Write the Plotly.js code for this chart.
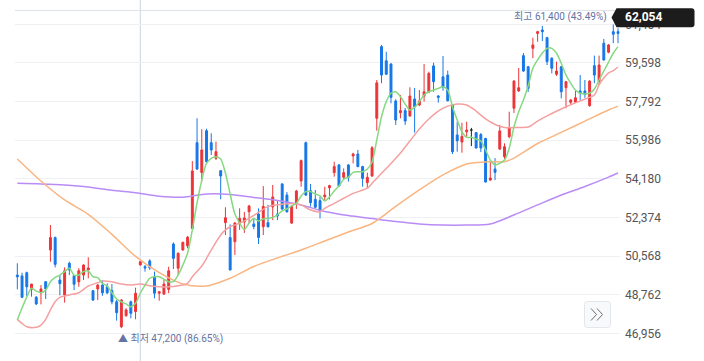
<!DOCTYPE html>
<html>
<head>
<meta charset="utf-8">
<script src="https://cdn.plot.ly/plotly-3.0.1.min.js"></script>
<style>
  html, body { margin: 0; padding: 0; background: #fff; }
  #chart { width: 704px; height: 361px; }
</style>
</head>
<body>
<div id="chart"></div>
<script>
// ---------------- data ----------------
const openPrices = [
  49680,49640,49790,49010,48640,48850,49370,50850,51430,49450,
  48750,50230,49650,49360,49680,49920,48950,49030,49210,49130,
  48950,48430,47260,47780,48430,47970,50150,50070,50340,49600,
  48830,48790,49010,51130,50000,50850,51040,51860,55870,54470,
  56430,55870,55140,54560,52130,51430,51240,52100,52160,52640,
  52070,52530,51940,52130,52860,52530,53940,53420,52110,53050,
  54080,55870,53620,53220,53160,53340,53760,54470,54830,54250,
  54830,55250,55340,54750,54000,54310,57010,60360,59700,59550,
  57820,57270,57370,57120,57910,57630,58050,58240,59460,58050,
  58950,59030,57630,56230,55900,56380,56460,56340,56250,56070,
  54120,54640,55570,55210,56150,57480,58290,59940,59420,60280,
  60980,61140,60780,59820,59070,59420,58440,57760,57760,58290,
  58290,57600,59470,58750,60520,60100,61060,61060];
const highPrices = [
  50230,49790,49840,49260,48700,49210,49370,52020,51480,49680,
  50040,50300,49680,50000,50180,50510,48980,49260,49450,49290,
  49260,48510,48560,48130,48480,49090,50350,50150,50420,49840,
  48920,49480,50070,51210,50730,51240,51510,55010,57010,56500,
  56520,56310,55920,54590,52850,52050,52160,52800,52630,52960,
  52330,52800,53840,52960,53890,53140,53980,53560,52960,53660,
  55080,55920,53940,53660,53340,53810,53900,54980,54870,54670,
  54870,55400,55530,54790,54470,55710,58800,60440,60120,59580,
  57900,58100,57490,58460,58430,58330,59550,59190,59610,58100,
  59920,59240,57680,56850,56800,56850,56560,56370,56320,56090,
  55060,55150,56700,55840,57320,58800,59360,60060,59460,60780,
  61100,61330,60820,59860,59660,59460,58760,57900,58290,59030,
  58800,58790,59940,59940,60720,60480,61400,61220];
const lowPrices = [
  49010,48610,48700,48670,48280,48310,48560,50300,50040,48730,
  48390,49680,48980,49130,49450,49530,48470,48510,48710,48790,
  48310,47550,47200,47730,47660,47610,50130,49840,49920,48590,
  48480,48750,48830,49960,49680,50820,50930,51830,54590,54050,
  54940,55290,55060,53220,51550,49890,50620,51790,51650,52100,
  51820,51130,51550,51900,52250,52250,52720,52600,52070,52770,
  53810,53380,52880,52800,52330,53190,53220,54280,53810,54120,
  54050,54900,54720,53810,53740,54270,56430,58650,59030,57710,
  56700,57010,56700,57080,56340,57580,57790,58190,58250,57740,
  58300,57800,55340,55450,55400,56150,55710,55600,55430,54010,
  54090,54120,55530,55110,56070,57260,58240,59180,58240,59820,
  60590,60620,59500,59110,58990,57940,57480,57660,57730,57870,
  57970,57550,58650,58570,59700,60050,60520,60520];
const closePrices = [
  49600,48640,49130,49260,48330,49030,49030,51430,50180,49280,
  49880,49920,49250,49880,50150,50010,48510,49210,48850,48850,
  48430,47920,48510,48050,47890,48830,50300,50010,50020,48830,
  48900,49260,49880,50460,50700,51210,51450,54550,54640,55530,
  54980,55530,55450,54310,52360,49920,52110,52330,52350,52910,
  51950,51440,52890,51940,53330,52440,52770,52640,52890,53610,
  55030,53420,53060,52850,52690,53420,53860,54750,53840,54470,
  54250,55340,54750,54200,54250,55630,58670,59030,59070,57990,
  56930,57370,56880,58050,57550,57820,58250,59110,58720,57990,
  58460,57830,55450,55960,56160,56460,56460,55620,55620,54030,
  54220,54480,56420,55680,56570,58750,58440,59220,58410,60440,
  61060,61060,59660,59350,59220,58250,58720,57870,57970,58180,
  58130,58750,59030,59500,59740,60440,60940,60980];

// moving averages (5 / 20 / 60 / 120 day)
const ma5 = [
  47580,48140,48650,49060,48930,48850,48980,49370,49570,49680,
  49840,50000,49680,49680,49840,49870,49600,49560,49290,49170,
  48850,48560,48430,48330,48200,48360,48830,49210,49530,49600,
  49600,49480,49370,49370,49680,50150,50700,51790,53050,54120,
  54900,55140,55210,55110,54440,53470,52530,52110,51810,52110,
  52330,52210,52300,52330,52370,52490,52680,52770,52910,53030,
  53380,53580,53580,53470,53380,53140,53330,53610,53840,54160,
  54260,54480,54510,54510,54640,54970,56000,57080,57790,58180,
  58250,58020,57680,57400,57520,57790,58100,58250,58330,58410,
  58490,58330,57550,56930,56380,56120,56120,56040,55950,55530,
  55060,54830,54900,55060,55610,56600,57320,57870,58520,59350,
  59740,60060,60280,60280,60050,59580,59030,58650,58330,58180,
  58150,58180,58380,58800,59220,59640,60050,60360];
const ma20Idx = [0,1,2,4,5,6,7,8,9,11,13,14,15,17,18,20,22,24,26,28,
  30,32,34,36,37,39,40,41,43,44,45,47,49,51,53,56,58,60,62,64,
  65,67,69,71,74,75,77,79,81,83,85,87,89,91,93,95,97,99,101,103,
  106,108,110,112,116,120,122,123,124,125,126,127];
const ma20 = [47610,47420,47260,47240,47340,47610,48050,48430,48640,48750,
  48850,49010,49170,49320,49400,49370,49260,49210,49260,49180,
  49130,49130,49180,49290,49600,50100,50460,50850,51550,51790,
  51940,52100,52330,52610,52880,52990,53030,52960,52720,52640,
  52800,53030,53270,53500,53740,53970,54440,54900,55390,55950,
  56510,56980,57350,57580,57680,57630,57350,56980,56720,56580,
  56580,56600,56880,57120,57550,57910,58100,58570,58890,59130,
  59240,59410];
const ma60Idx = [0,5,10,15,20,25,30,35,40,45,50,55,60,65,70,75,80,85,90,95,100,103,105,110,115,120,125,127];
const ma60 = [55110,54080,53190,52520,51580,50550,49790,49260,49170,49530,
  50080,50480,50850,51270,51690,52090,52890,53660,54360,54870,
  54980,54980,55150,55830,56350,56880,57400,57580];
const ma120Idx = [0,5,10,15,20,25,30,35,40,45,50,55,60,65,70,75,80,85,90,95,100,105,110,115,120,125,127];
const ma120 = [53970,53940,53890,53800,53640,53530,53370,53320,53470,53450,
  53310,53170,52960,52650,52460,52320,52180,52070,52020,52020,
  52070,52490,52960,53420,53820,54260,54450];

const tickVals = [46956, 48762, 50568, 52374, 54180, 55986, 57792, 59598, 61404];
const currentPrice = 62054;
const lowLabel = {index: 22, value: 47200, text: '▲ 최저 47,200 (86.65%)'};
const highLabel = {index: 126, value: 61400, text: '최고 61,400 (43.49%)'};
const crosshairIndex = 26;

// ---------------- styling ----------------
const RED = '#ec3438', BLUE = '#1677e8', DOJI = '#222222';
const LABEL = '#6373a3';
const FONT = "Roboto, 'Noto Sans CJK KR', 'Noto Sans', sans-serif";

const idx = openPrices.map((_, i) => i);
const normal = idx.filter(i => openPrices[i] !== closePrices[i]);
const doji = idx.filter(i => openPrices[i] === closePrices[i]);
const pick = (arr, sel) => sel.map(i => arr[i]);

function candle(sel, upColor, downColor) {
  return {
    type: 'candlestick', x: sel,
    open: pick(openPrices, sel), high: pick(highPrices, sel),
    low: pick(lowPrices, sel), close: pick(closePrices, sel),
    increasing: {line: {color: upColor, width: 1}, fillcolor: upColor},
    decreasing: {line: {color: downColor, width: 1}, fillcolor: downColor},
    whiskerwidth: 0, hoverinfo: 'skip', showlegend: false
  };
}
function maLine(x, y, color) {
  return {type: 'scatter', mode: 'lines', x: x, y: y,
    line: {color: color, width: 1.5, shape: 'spline', smoothing: 0.8},
    hoverinfo: 'skip', showlegend: false};
}

const traces = [
  candle(normal, RED, BLUE),
  candle(doji, DOJI, DOJI),
  maLine(ma120Idx, ma120, '#b98cf5'),
  maLine(ma60Idx, ma60, '#f9b582'),
  maLine(ma20Idx, ma20, '#f5a0a0'),
  maLine(idx, ma5, '#86d981')
];

// decoration helpers: page pixel -> paper fraction (plot area 15..620 x 0..361)
const L = 15, R = 620, H = 361;
const PX = p => (p - L) / (R - L);
const PY = p => 1 - p / H;
const path = pts => pts.map(s => s[0] + PX(s[1]) + ',' + PY(s[2])).join(' ');

const tagPath = 'M' + PX(611.5) + ',' + PY(17.5) +
  ' L' + PX(616.5) + ',' + PY(8.3) + ' L' + PX(691.5) + ',' + PY(8.3) +
  ' Q' + PX(694.5) + ',' + PY(8.3) + ' ' + PX(694.5) + ',' + PY(11.3) +
  ' L' + PX(694.5) + ',' + PY(24.2) +
  ' Q' + PX(694.5) + ',' + PY(27.2) + ' ' + PX(691.5) + ',' + PY(27.2) +
  ' L' + PX(616.5) + ',' + PY(27.2) + ' Z';
const btnPath = 'M' + PX(587.5) + ',' + PY(301.5) +
  ' L' + PX(607.5) + ',' + PY(301.5) +
  ' Q' + PX(610.5) + ',' + PY(301.5) + ' ' + PX(610.5) + ',' + PY(304.5) +
  ' L' + PX(610.5) + ',' + PY(324.5) +
  ' Q' + PX(610.5) + ',' + PY(327.5) + ' ' + PX(607.5) + ',' + PY(327.5) +
  ' L' + PX(587.5) + ',' + PY(327.5) +
  ' Q' + PX(584.5) + ',' + PY(327.5) + ' ' + PX(584.5) + ',' + PY(324.5) +
  ' L' + PX(584.5) + ',' + PY(304.5) +
  ' Q' + PX(584.5) + ',' + PY(301.5) + ' ' + PX(587.5) + ',' + PY(301.5) + ' Z';
const chevPath = path([['M',591,308.5],['L',596.5,314.5],['L',591,320.5]]) + ' ' +
                 path([['M',597,308.5],['L',602.5,314.5],['L',597,320.5]]);

const layout = {
  width: 704, height: 361,
  margin: {l: L, r: 704 - R, t: 0, b: 0, pad: 0},
  paper_bgcolor: '#ffffff', plot_bgcolor: '#ffffff',
  showlegend: false,
  boxgap: 0.42,
  xaxis: {range: [-0.49, 127.42], showgrid: false, zeroline: false,
          showticklabels: false, ticks: '', showline: false,
          rangeslider: {visible: false}, fixedrange: true},
  yaxis: {side: 'right', range: [45661, 62541],
          tickvals: tickVals, ticktext: tickVals.map(v => v.toLocaleString('en-US')),
          showgrid: true, gridcolor: '#eef0f3', gridwidth: 1,
          zeroline: false, showline: false, ticks: '', ticklabelstandoff: 4,
          tickfont: {family: FONT, size: 12, color: '#555555'}, fixedrange: true},
  shapes: [
    {type: 'line', xref: 'x', yref: 'paper', x0: crosshairIndex, x1: crosshairIndex, y0: 0, y1: 1,
     line: {color: '#ccd4df', width: 1}, layer: 'below'},
    {type: 'line', xref: 'paper', yref: 'y', x0: 0, x1: 1, y0: currentPrice, y1: currentPrice,
     line: {color: '#dde1e7', width: 1}, layer: 'below'},
    {type: 'path', xref: 'paper', yref: 'paper', path: tagPath,
     fillcolor: '#1c1c1c', line: {width: 0}, layer: 'above'},
    {type: 'path', xref: 'paper', yref: 'paper', path: btnPath,
     fillcolor: '#f8f9fb', line: {color: '#e3e6ea', width: 1}, layer: 'above'},
    {type: 'path', xref: 'paper', yref: 'paper', path: chevPath,
     line: {color: '#707070', width: 1}, layer: 'above'}
  ],
  annotations: [
    {xref: 'x', yref: 'y', x: lowLabel.index, y: lowLabel.value, text: lowLabel.text,
     showarrow: false, xanchor: 'left', yanchor: 'middle', xshift: -5, yshift: -11,
     font: {family: FONT, size: 10, color: LABEL}},
    {xref: 'x', yref: 'y', x: highLabel.index, y: highLabel.value, text: highLabel.text,
     showarrow: false, xanchor: 'right', yanchor: 'middle', xshift: -4, yshift: 7,
     font: {family: FONT, size: 10, color: LABEL}},
    {xref: 'paper', yref: 'y', x: PX(623), y: currentPrice, text: '<b>' + currentPrice.toLocaleString('en-US') + '</b>',
     showarrow: false, xanchor: 'left', yanchor: 'middle', yshift: -7,
     font: {family: FONT, size: 12, color: '#ffffff'}}
  ]
};

Plotly.newPlot('chart', traces, layout, {staticPlot: true, displayModeBar: false});
</script>
</body>
</html>
